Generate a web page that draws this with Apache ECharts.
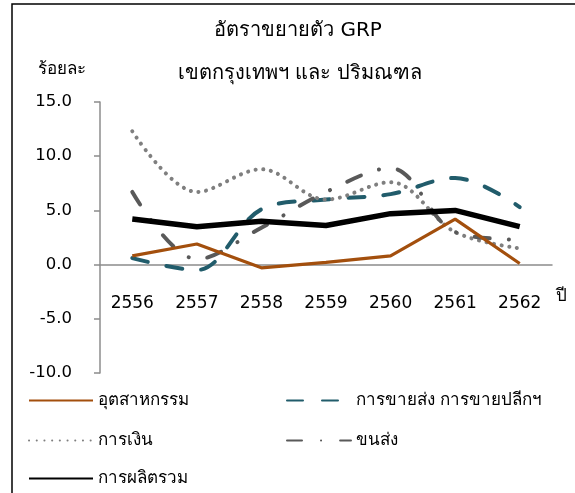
<!DOCTYPE html>
<html>
<head>
<meta charset="utf-8">
<script src="https://cdn.jsdelivr.net/npm/echarts@6/dist/echarts.min.js"></script>
<style>
  html, body { margin: 0; padding: 0; background: #fff; }
  #chart { width: 575px; height: 493px; }
</style>
</head>
<body>
<div id="chart"></div>
<script>
  const years = ['2556', '2557', '2558', '2559', '2560', '2561', '2562']
  const industry = [0.8, 1.9, -0.3, 0.2, 0.8, 4.2, 0.1]
  const trade = [0.6, -0.5, 5.1, 6.0, 6.5, 8.0, 5.3]
  const finance = [12.3, 6.7, 8.8, 6.0, 7.6, 3.0, 1.5]
  const transport = [6.7, 0.5, 3.4, 6.7, 8.9, 3.0, 2.3]
  const total = [4.2, 3.5, 4.0, 3.6, 4.7, 5.0, 3.5]

  const font = "Tahoma, 'DejaVu Sans', 'Noto Sans', sans-serif"
  const axisGray = '#8c8c8c'

  const chart = echarts.init(document.getElementById('chart'))

  const legendText = { fontFamily: font, fontSize: 17, color: '#000' }

  // one legend per item so the two columns line up like the original
  function legendAt(name, left, top) {
    return {
      left: left, top: top,
      itemWidth: 64, itemHeight: 14,
      itemStyle: { opacity: 0 },
      textStyle: legendText,
      data: [name]
    }
  }

  const option = {
    backgroundColor: '#fff',
    animation: false,
    textStyle: { fontFamily: font },
    title: [
      {
        text: 'อัตราขยายตัว GRP',
        left: 293, top: 16, textAlign: 'center',
        textStyle: { fontFamily: font, fontSize: 20, fontWeight: 'normal', color: '#000' }
      },
      {
        text: 'เขตกรุงเทพฯ และ ปริมณฑล',
        left: 295, top: 59, textAlign: 'center',
        textStyle: { fontFamily: font, fontSize: 20, fontWeight: 'normal', color: '#000' }
      },
      {
        text: 'ร้อยละ',
        left: 33, top: 56,
        textStyle: { fontFamily: font, fontSize: 17, fontWeight: 'normal', color: '#000' }
      }
    ],
    graphic: [
      {
        type: 'rect',
        shape: { x: 12, y: 4, width: 700, height: 700 },
        style: { fill: 'none', stroke: '#000', lineWidth: 1.5 },
        silent: true
      },
      {
        type: 'text',
        left: 556, top: 288,
        style: { text: 'ปี', fontFamily: font, fontSize: 17, fill: '#000' }
      }
    ],
    legend: [
      legendAt('อุตสาหกรรม', 23, 387),
      legendAt('การเงิน', 23, 427),
      legendAt('การผลิตรวม', 23, 465),
      legendAt('การขายส่ง การขายปลีกฯ', 281, 387),
      legendAt('ขนส่ง', 281, 427)
    ],
    grid: {
      left: 100,
      right: 23,
      top: 102,
      bottom: 120
    },
    xAxis: {
      type: 'category',
      data: years,
      // axis sits on the zero line, labels hang below it
      offset: -108,
      axisLine: { onZero: false, lineStyle: { color: axisGray, width: 1.5 } },
      axisTick: { length: 7, lineStyle: { color: axisGray, width: 1.5 } },
      axisLabel: { margin: 30, fontFamily: font, fontSize: 17, color: '#000' }
    },
    yAxis: {
      type: 'value',
      min: -10,
      max: 15,
      interval: 5,
      splitLine: { show: false },
      axisLine: { show: true, lineStyle: { color: axisGray, width: 1.5 } },
      axisTick: { show: true, length: 6, lineStyle: { color: axisGray, width: 1.5 } },
      axisLabel: {
        margin: 28,
        fontFamily: font, fontSize: 16.5, color: '#000',
        formatter: v => v.toFixed(1)
      }
    },
    series: [
      {
        name: 'อุตสาหกรรม',
        type: 'line',
        symbol: 'none',
        data: industry,
        lineStyle: { color: '#a34f0d', width: 3.2 },
        itemStyle: { color: '#a34f0d' },
        z: 3
      },
      {
        name: 'การขายส่ง การขายปลีกฯ',
        type: 'line',
        symbol: 'none',
        smooth: 0.35,
        data: trade,
        lineStyle: { color: '#215c6b', width: 4, type: [16, 19], cap: 'round' },
        itemStyle: { color: '#215c6b' },
        z: 2
      },
      {
        name: 'การเงิน',
        type: 'line',
        symbol: 'none',
        smooth: 0.35,
        data: finance,
        lineStyle: { color: '#7f7f7f', width: 4, type: [0.1, 7.6], cap: 'round' },
        itemStyle: { color: '#7f7f7f' },
        z: 2
      },
      {
        name: 'ขนส่ง',
        type: 'line',
        symbol: 'none',
        smooth: 0.35,
        data: transport,
        lineStyle: { color: '#595959', width: 4, type: [15, 19, 0.1, 19], cap: 'round' },
        itemStyle: { color: '#595959' },
        z: 2
      },
      {
        name: 'การผลิตรวม',
        type: 'line',
        symbol: 'none',
        data: total,
        lineStyle: { color: '#000', width: 5.5 },
        itemStyle: { color: '#000' },
        z: 4
      }
    ]
  }

  chart.setOption(option)
</script>
</body>
</html>
